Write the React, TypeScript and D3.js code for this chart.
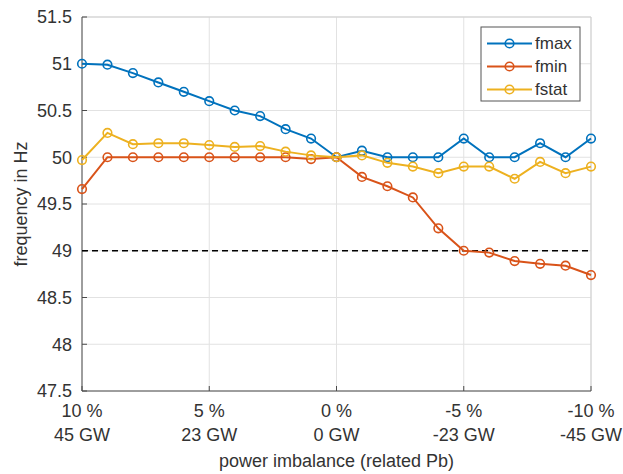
import React from "react";
import * as d3 from "d3";

const percents = [10, 9, 8, 7, 6, 5, 4, 3, 2, 1, 0, -1, -2, -3, -4, -5, -6, -7, -8, -9, -10];
const fmax = [51.0, 50.99, 50.9, 50.8, 50.7, 50.6, 50.5, 50.44, 50.3, 50.2, 50.0, 50.07, 50.0, 50.0, 50.0, 50.2, 50.0, 50.0, 50.15, 50.0, 50.2];
const fmin = [49.66, 50.0, 50.0, 50.0, 50.0, 50.0, 50.0, 50.0, 50.0, 49.98, 50.0, 49.79, 49.69, 49.57, 49.24, 49.0, 48.98, 48.89, 48.86, 48.84, 48.74];
const fstat = [49.97, 50.26, 50.14, 50.15, 50.15, 50.13, 50.11, 50.12, 50.06, 50.02, 50.0, 50.02, 49.94, 49.9, 49.83, 49.9, 49.9, 49.77, 49.95, 49.83, 49.9];
const xTicks = [10, 5, 0, -5, -10];
const xTickPct = ["10 %", "5 %", "0 %", "-5 %", "-10 %"];
const xTickGW = ["45 GW", "23 GW", "0 GW", "-23 GW", "-45 GW"];
const yTicks = [47.5, 48, 48.5, 49, 49.5, 50, 50.5, 51, 51.5];
const thresholdValue = 49;
const seriesNames = ["fmax", "fmin", "fstat"];
const seriesColors = ["#0072BD", "#D95319", "#EDB120"];

const W = 623;
const H = 474;
const L = 82;
const R = 591;
const T = 17;
const B = 391;

export default function App() {
  const x = d3.scaleLinear().domain([10, -10]).range([L, R]);
  const y = d3.scaleLinear().domain([47.5, 51.5]).range([B, T]);
  const series = [fmax, fmin, fstat];
  const line = d3
    .line<number>()
    .x((_, i) => x(percents[i]))
    .y((d) => y(d));
  const font = "Arial, 'Liberation Sans', Helvetica, sans-serif";
  const textColor = "#333";
  const axisColor = "#4a4a4a";
  const gridColor = "#e2e2e2";

  const legX = 481;
  const legY = 27;
  const legW = 99;
  const legH = 74;
  const rowYs = [43.5, 66.5, 89.5];

  return (
    <svg
      width={W}
      height={H}
      style={{ position: "absolute", left: 0, top: 0, background: "#fff" }}
      fontFamily={font}
    >
      <rect x={0} y={0} width={W} height={H} fill="#fff" />
      {/* grid */}
      {xTicks.map((t) => (
        <line key={"gx" + t} x1={x(t)} x2={x(t)} y1={T} y2={B} stroke={gridColor} strokeWidth={1} />
      ))}
      {yTicks.map((t) => (
        <line key={"gy" + t} x1={L} x2={R} y1={y(t)} y2={y(t)} stroke={gridColor} strokeWidth={1} />
      ))}
      {/* box top/right */}
      <line x1={L} x2={R} y1={T} y2={T} stroke="#cfcfcf" strokeWidth={1} />
      <line x1={R} x2={R} y1={T} y2={B} stroke="#cfcfcf" strokeWidth={1} />
      {/* axes */}
      <line x1={L} x2={L} y1={T} y2={B} stroke={axisColor} strokeWidth={1} />
      <line x1={L} x2={R} y1={B} y2={B} stroke={axisColor} strokeWidth={1} />
      {xTicks.map((t) => (
        <line key={"tx" + t} x1={x(t)} x2={x(t)} y1={B} y2={B - 5} stroke={axisColor} strokeWidth={1} />
      ))}
      {yTicks.map((t) => (
        <line key={"ty" + t} x1={L} x2={L + 5} y1={y(t)} y2={y(t)} stroke={axisColor} strokeWidth={1} />
      ))}
      {/* y tick labels */}
      {yTicks.map((t) => (
        <text
          key={"ly" + t}
          x={L - 10}
          y={y(t)}
          dy="0.35em"
          textAnchor="end"
          fontSize={18}
          fill={textColor}
        >
          {String(t)}
        </text>
      ))}
      {/* x tick labels */}
      {xTicks.map((t, i) => (
        <g key={"lx" + t}>
          <text x={x(t)} y={417} textAnchor="middle" fontSize={18} fill={textColor}>
            {xTickPct[i]}
          </text>
          <text x={x(t)} y={441} textAnchor="middle" fontSize={18} fill={textColor}>
            {xTickGW[i]}
          </text>
        </g>
      ))}
      {/* axis titles */}
      <text x={(L + R) / 2} y={467} textAnchor="middle" fontSize={18} fill={textColor}>
        power imbalance (related Pb)
      </text>
      <text
        transform={`translate(27,${(T + B) / 2}) rotate(-90)`}
        textAnchor="middle"
        fontSize={18}
        fill={textColor}
      >
        frequency in Hz
      </text>
      {/* threshold */}
      <line
        x1={L}
        x2={R}
        y1={y(thresholdValue)}
        y2={y(thresholdValue)}
        stroke="#000"
        strokeWidth={1.5}
        strokeDasharray="6,4"
      />
      {/* series */}
      {series.map((s, si) => (
        <g key={"s" + si}>
          <path d={line(s) || ""} fill="none" stroke={seriesColors[si]} strokeWidth={2} />
          {s.map((v, i) => (
            <circle
              key={i}
              cx={x(percents[i])}
              cy={y(v)}
              r={4.3}
              fill="none"
              stroke={seriesColors[si]}
              strokeWidth={1.6}
            />
          ))}
        </g>
      ))}
      {/* legend */}
      <rect x={legX} y={legY} width={legW} height={legH} fill="#fff" stroke="#555" strokeWidth={1} />
      {seriesNames.map((n, i) => (
        <g key={"lg" + n}>
          <line x1={487} x2={532} y1={rowYs[i]} y2={rowYs[i]} stroke={seriesColors[i]} strokeWidth={2} />
          <circle cx={509.5} cy={rowYs[i]} r={4.3} fill="none" stroke={seriesColors[i]} strokeWidth={1.6} />
          <text x={535} y={rowYs[i]} dy="0.35em" fontSize={17} fill={textColor}>
            {n}
          </text>
        </g>
      ))}
    </svg>
  );
}
